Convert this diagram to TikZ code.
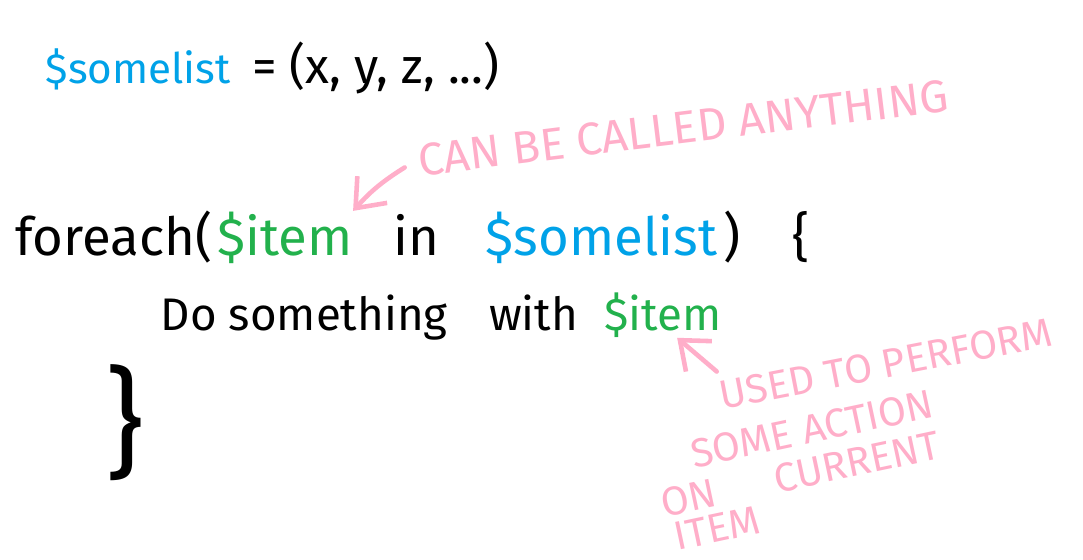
\documentclass[tikz,border=0pt]{standalone}
\usepackage{fontspec}
\setmainfont{Fira Sans}
\usetikzlibrary{arrows.meta,positioning}
\definecolor{listblue}{HTML}{00A2E8}
\definecolor{itemgreen}{HTML}{22B14C}
\definecolor{notepink}{HTML}{FFAEC9}

\begin{document}
\begin{tikzpicture}[>={Straight Barb[length=2.5mm,width=4mm]},
  code/.style={font=\fontsize{15}{18}\selectfont,inner sep=0pt,anchor=base west},
  small code/.style={code,font=\fontsize{13}{16}\selectfont},
  note/.style={font=\fontsize{11.5}{14}\selectfont,text=notepink,inner sep=0pt},
  notearrow/.style={draw=notepink,line width=1.3pt,line cap=round,->}]
  \fill[white] (0,0) rectangle (10.83,5.59);
  \useasboundingbox (0,0) rectangle (10.83,5.59);
  % the list
  \node[code,font=\fontsize{12}{15}\selectfont,text=listblue] (list) at (0.45,4.76) {\$somelist};
  \node[code,font=\fontsize{14}{17}\selectfont] (tuple) at ([xshift=2mm]list.base east) {= (x, y, z, ...)};
  % loop header
  \node[code] (fe) at (0.15,3.04) {foreach(};
  \node[code,text=itemgreen] (item1) at ([xshift=1pt]fe.base east) {\$item};
  \node[code] (in) at ([xshift=4mm]item1.base east) {in};
  \node[code,text=listblue] (list2) at ([xshift=4.5mm]in.base east) {\$somelist};
  \node[code] (close) at ([xshift=0.5mm]list2.base east) {)};
  \node[code] (open) at ([xshift=5mm]close.base east) {\{};
  % loop body
  \node[small code] (body) at (1.6,2.29) {Do something};
  \node[small code] (with) at ([xshift=4mm]body.base east) {with};
  \node[small code,text=itemgreen] (item2) at ([xshift=2.5mm]with.base east) {\$item};
  \node[code,font=\fontsize{34}{40}\selectfont] (end) at (1.05,0.95) {\}};
  % notes
  \node[note,font=\fontsize{13}{15}\selectfont,rotate=7] (anything) at (6.83,4.31) {CAN BE CALLED ANYTHING};
  \node[note,rotate=11] (used) at (8.86,1.95) {USED TO PERFORM};
  \node[note,rotate=12] (action) at (8.12,1.30) {SOME ACTION};
  \node[note,rotate=12] (current) at (8.0,0.85) {ON\hspace{6mm}CURRENT};
  \node[note,rotate=12] (curitem) at (7.17,0.31) {ITEM};
  \draw[notearrow] ([xshift=-1.5mm,yshift=1mm]anything.south west) to[bend right=8] (item1.north east);
  \draw[notearrow] ([yshift=1mm]used.north west) -- ([xshift=-4.5mm]item2.south east);
\end{tikzpicture}
\end{document}
